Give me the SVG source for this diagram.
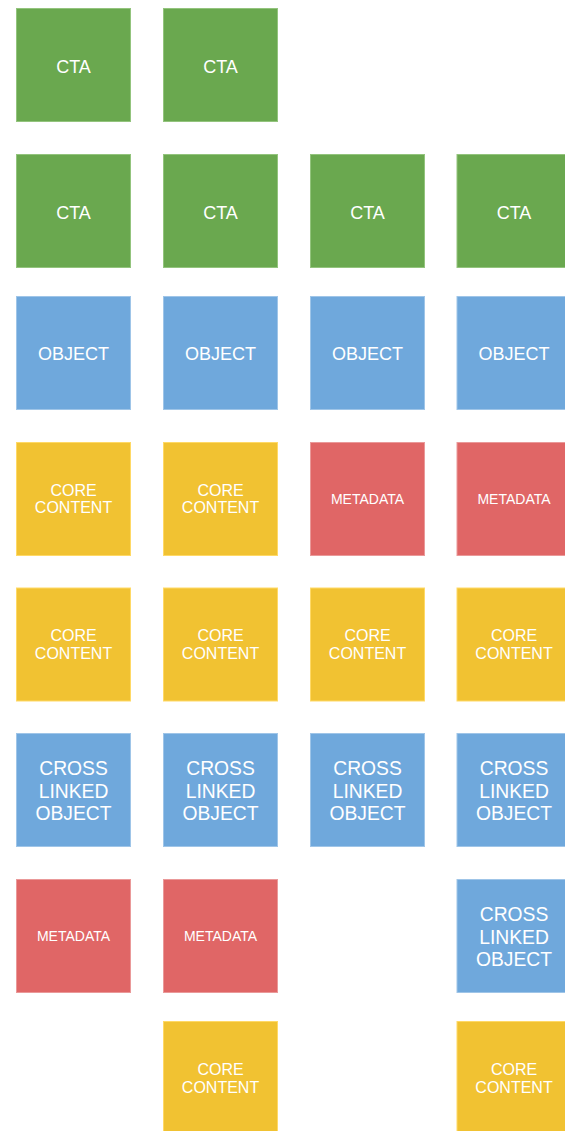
<svg xmlns="http://www.w3.org/2000/svg" width="565" height="1131" viewBox="0 0 565 1131">
<style>
rect{stroke-width:1}
.g{fill:#6aa84f;stroke:#93c47d}
.b{fill:#6fa8dc;stroke:#9fc5e8}
.y{fill:#f1c232;stroke:#ffd966}
.r{fill:#e06666;stroke:#ea9999}
text{font-family:"Liberation Sans",Arial,sans-serif;fill:#ffffff;text-anchor:middle}
.t18{font-size:18px}
.t16{font-size:16px}
.t14{font-size:14px}
.t19{font-size:19.3px}
</style>
<rect width="565" height="1131" fill="#ffffff" stroke="none"/>
<g id="connectors"/>
<!-- Row 1 -->
<g id="cta-r1c1"><rect class="g" x="16.5" y="8.5" width="114" height="113"/><text class="t18" x="73.5" y="72.5">CTA</text></g>
<g id="cta-r1c2"><rect class="g" x="163.5" y="8.5" width="114" height="113"/><text class="t18" x="220.5" y="72.5">CTA</text></g>
<!-- Row 2 -->
<g id="cta-r2c1"><rect class="g" x="16.5" y="154.5" width="114" height="113"/><text class="t18" x="73.5" y="218.5">CTA</text></g>
<g id="cta-r2c2"><rect class="g" x="163.5" y="154.5" width="114" height="113"/><text class="t18" x="220.5" y="218.5">CTA</text></g>
<g id="cta-r2c3"><rect class="g" x="310.5" y="154.5" width="114" height="113"/><text class="t18" x="367.5" y="218.5">CTA</text></g>
<g id="cta-r2c4"><rect class="g" x="457" y="154.5" width="114" height="113"/><text class="t18" x="514" y="218.5">CTA</text></g>
<!-- Row 3 -->
<g id="obj-r3c1"><rect class="b" x="16.5" y="296.5" width="114" height="113"/><text class="t18" x="73.5" y="360">OBJECT</text></g>
<g id="obj-r3c2"><rect class="b" x="163.5" y="296.5" width="114" height="113"/><text class="t18" x="220.5" y="360">OBJECT</text></g>
<g id="obj-r3c3"><rect class="b" x="310.5" y="296.5" width="114" height="113"/><text class="t18" x="367.5" y="360">OBJECT</text></g>
<g id="obj-r3c4"><rect class="b" x="457" y="296.5" width="114" height="113"/><text class="t18" x="514" y="360">OBJECT</text></g>
<!-- Row 4 -->
<g id="core-r4c1"><rect class="y" x="16.5" y="442.5" width="114" height="113"/><text class="t16" x="73.5" y="495.7">CORE</text><text class="t16" x="73.5" y="513">CONTENT</text></g>
<g id="core-r4c2"><rect class="y" x="163.5" y="442.5" width="114" height="113"/><text class="t16" x="220.5" y="495.7">CORE</text><text class="t16" x="220.5" y="513">CONTENT</text></g>
<g id="meta-r4c3"><rect class="r" x="310.5" y="442.5" width="114" height="113"/><text class="t14" x="367.5" y="504">METADATA</text></g>
<g id="meta-r4c4"><rect class="r" x="457" y="442.5" width="114" height="113"/><text class="t14" x="514" y="504">METADATA</text></g>
<!-- Row 5 -->
<g id="core-r5c1"><rect class="y" x="16.5" y="588" width="114" height="113"/><text class="t16" x="73.5" y="641">CORE</text><text class="t16" x="73.5" y="658.5">CONTENT</text></g>
<g id="core-r5c2"><rect class="y" x="163.5" y="588" width="114" height="113"/><text class="t16" x="220.5" y="641">CORE</text><text class="t16" x="220.5" y="658.5">CONTENT</text></g>
<g id="core-r5c3"><rect class="y" x="310.5" y="588" width="114" height="113"/><text class="t16" x="367.5" y="641">CORE</text><text class="t16" x="367.5" y="658.5">CONTENT</text></g>
<g id="core-r5c4"><rect class="y" x="457" y="588" width="114" height="113"/><text class="t16" x="514" y="641">CORE</text><text class="t16" x="514" y="658.5">CONTENT</text></g>
<!-- Row 6 -->
<g id="cross-r6c1"><rect class="b" x="16.5" y="733.5" width="114" height="113"/><text class="t19" x="73.5" y="775">CROSS</text><text class="t19" x="73.5" y="797.5">LINKED</text><text class="t19" x="73.5" y="820">OBJECT</text></g>
<g id="cross-r6c2"><rect class="b" x="163.5" y="733.5" width="114" height="113"/><text class="t19" x="220.5" y="775">CROSS</text><text class="t19" x="220.5" y="797.5">LINKED</text><text class="t19" x="220.5" y="820">OBJECT</text></g>
<g id="cross-r6c3"><rect class="b" x="310.5" y="733.5" width="114" height="113"/><text class="t19" x="367.5" y="775">CROSS</text><text class="t19" x="367.5" y="797.5">LINKED</text><text class="t19" x="367.5" y="820">OBJECT</text></g>
<g id="cross-r6c4"><rect class="b" x="457" y="733.5" width="114" height="113"/><text class="t19" x="514" y="775">CROSS</text><text class="t19" x="514" y="797.5">LINKED</text><text class="t19" x="514" y="820">OBJECT</text></g>
<!-- Row 7 -->
<g id="meta-r7c1"><rect class="r" x="16.5" y="879.5" width="114" height="113"/><text class="t14" x="73.5" y="941">METADATA</text></g>
<g id="meta-r7c2"><rect class="r" x="163.5" y="879.5" width="114" height="113"/><text class="t14" x="220.5" y="941">METADATA</text></g>
<g id="cross-r7c4"><rect class="b" x="457" y="879.5" width="114" height="113"/><text class="t19" x="514" y="921">CROSS</text><text class="t19" x="514" y="943.5">LINKED</text><text class="t19" x="514" y="966">OBJECT</text></g>
<!-- Row 8 -->
<g id="core-r8c2"><rect class="y" x="163.5" y="1021.5" width="114" height="113"/><text class="t16" x="220.5" y="1075">CORE</text><text class="t16" x="220.5" y="1092.5">CONTENT</text></g>
<g id="core-r8c4"><rect class="y" x="457" y="1021.5" width="114" height="113"/><text class="t16" x="514" y="1075">CORE</text><text class="t16" x="514" y="1092.5">CONTENT</text></g>
</svg>
